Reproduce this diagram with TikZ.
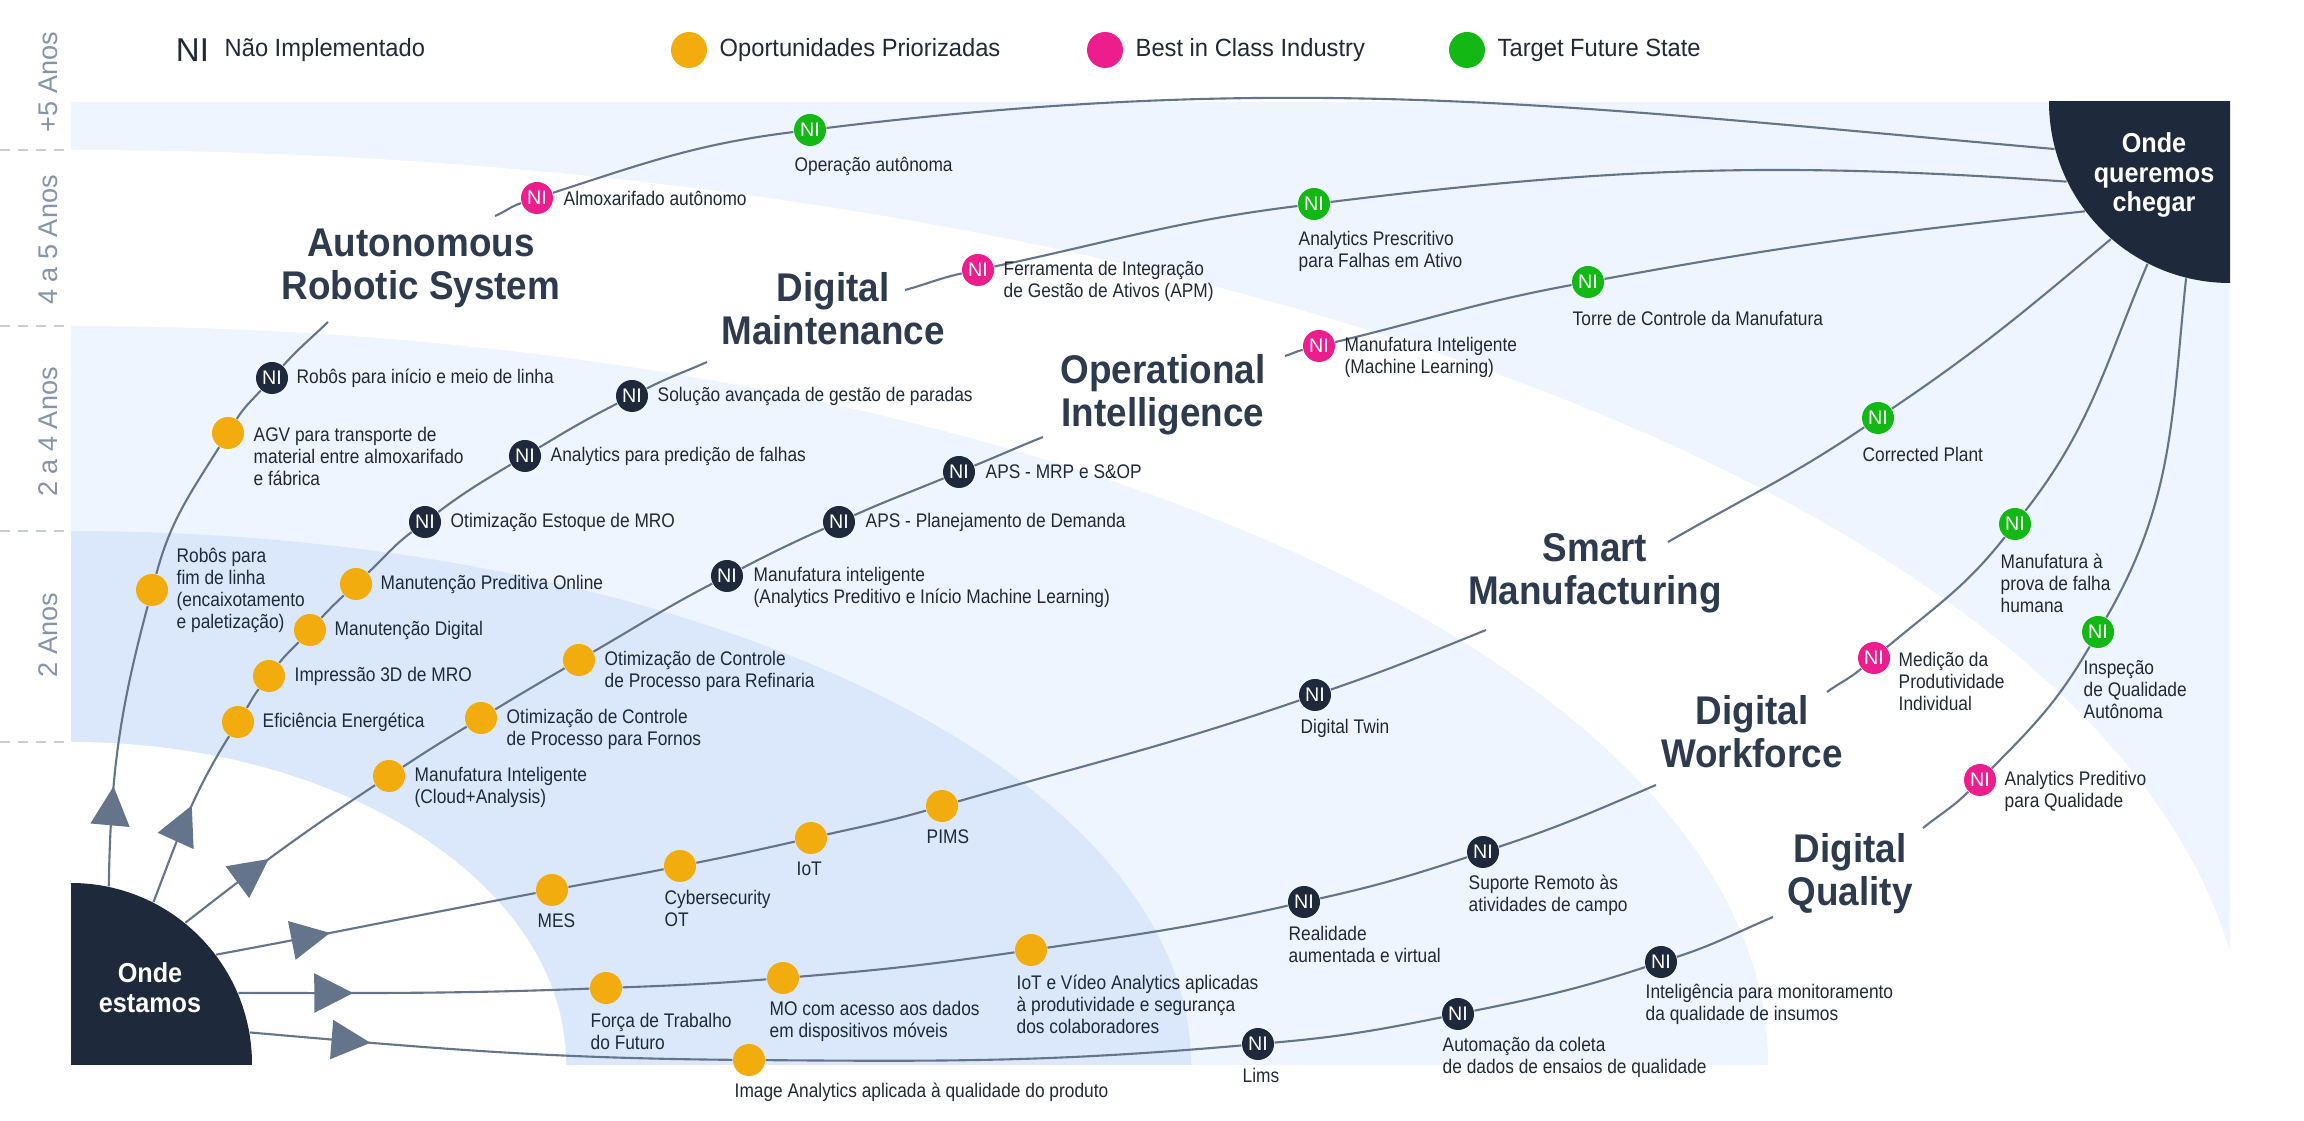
\documentclass[tikz,border=0pt]{standalone}
\usepackage{fontspec}
\setmainfont{Liberation Sans}
\newfontfamily\narrowfont{Liberation Sans}[FakeStretch=0.88]
\newfontfamily\keyfont{Liberation Sans}[FakeStretch=0.95]
\newfontfamily\areafont{Liberation Sans}[FakeStretch=0.92]
\usetikzlibrary{arrows.meta,decorations.markings}
\definecolor{ink}{HTML}{1F2A37}
\definecolor{head}{HTML}{2E3B4E}
\definecolor{line}{HTML}{64748B}
\definecolor{navy}{HTML}{1E293B}
\definecolor{opp}{HTML}{F2AC0E}
\definecolor{best}{HTML}{EC1E8E}
\definecolor{target}{HTML}{14B814}
\definecolor{pale}{HTML}{EEF5FE}
\definecolor{mid}{HTML}{DBE8FC}
\definecolor{yearc}{HTML}{8594AA}
\definecolor{dashc}{HTML}{C5CDD8}
\pgfdeclarelayer{back}
\pgfdeclarelayer{links}
\pgfsetlayers{back,links,main}
\tikzset{
  link/.style={draw=line, line width=0.6pt},
  flow/.style={postaction={decorate}, decoration={markings, mark=at position #1 with {\arrow{Triangle[length=3.9mm,width=3.9mm]}}}},
  spot/.style={circle, fill=#1, minimum size=3.2mm, inner sep=0pt, text=white, font=\fontsize{5.6}{6}\selectfont},
  lab/.style={anchor=west, inner sep=0pt, align=left, text=ink, font=\narrowfont\fontsize{5.6}{6.26}\selectfont},
  area/.style={align=center, inner sep=0pt, text=head, font=\areafont\bfseries\fontsize{11.4}{12.2}\selectfont},
  hub/.style={circle, fill=navy, minimum size=3.62cm, inner sep=0pt},
  hubtext/.style={align=center, text=white, font=\areafont\bfseries\fontsize{7.8}{8.5}\selectfont},
  years/.style={rotate=90, text=yearc, font=\fontsize{7.7}{8}\selectfont},
  key/.style={anchor=west, inner sep=0pt, text=ink, font=\keyfont\fontsize{7.1}{8}\selectfont},
  keydot/.style={circle, fill=#1, minimum size=3.6mm, inner sep=0pt},
}
\begin{document}
\begin{tikzpicture}
  \useasboundingbox (0,0) rectangle (23.04,11.2);
  % bands of the horizon
  \begin{pgfonlayer}{back}
    \begin{scope}
      \clip (0.71,0.56) rectangle (22.3,10.18);
      \fill[pale] (0.71,0.56) rectangle (22.3,10.18);
      \fill[white] (0.71,0.56) ellipse [x radius=21.75, y radius=9.14];
      \fill[pale] (0.71,0.56) ellipse [x radius=16.97, y radius=7.38];
      \fill[mid] (0.71,0.56) ellipse [x radius=11.2, y radius=5.33];
      \fill[white] (0.71,0.56) ellipse [x radius=4.95, y radius=3.22];
    \end{scope}
    \foreach \y in {9.70,7.94,5.89,3.78}
      \draw[dashc, line width=0.7pt, dash pattern=on 0.1cm off 0.08cm] (0,\y) -- (0.71,\y);
  \end{pgfonlayer}
  \foreach \y/\t [count=\i] in {10.38/+5 Anos, 8.80/4 a 5 Anos, 6.88/2 a 4 Anos, 4.85/2 Anos}
    \node[years] (year\i) at (0.48,\y) {\t};

  % legend
  \node[inner sep=0pt, text=ink, font=\fontsize{9.4}{10}\selectfont] (keyni) at (1.925,10.70) {NI};
  \node[key] (keynit) at (2.24,10.70) {Não Implementado};
  \node[keydot=opp] (keyo) at (6.89,10.70) {};
  \node[key] (keyot) at (7.19,10.70) {Oportunidades Priorizadas};
  \node[keydot=best] (keyb) at (11.05,10.70) {};
  \node[key] (keybt) at (11.35,10.70) {Best in Class Industry};
  \node[keydot=target] (keyt) at (14.67,10.70) {};
  \node[key] (keytt) at (14.97,10.70) {Target Future State};

  % start and goal
  \begin{scope}
    \clip (0.71,0.56) rectangle (22.3,10.18);
    \node[hub] (here) at (0.71,0.56) {};
    \node[hub] (there) at (22.3,10.18) {};
  \end{scope}
  \node[hubtext] (heretext) at (1.50,1.32) {Onde\\estamos};
  \node[hubtext] (theretext) at (21.54,9.45) {Onde\\queremos\\chegar};

  % areas
  \node[area] (ars) at (4.21,8.52) {Autonomous\\Robotic System};
  \node[area] (dm) at (8.33,8.11) {Digital\\Maintenance};
  \node[area] (oi) at (11.63,7.25) {Operational\\Intelligence};
  \node[area] (sm) at (15.95,5.47) {Smart\\Manufacturing};
  \node[area] (dw) at (17.52,3.88) {Digital\\Workforce};
  \node[area] (dq) at (18.50,2.46) {Digital\\Quality};
  \coordinate (ars-in) at (3.28,7.98);
  \coordinate (ars-out) at (4.95,9.04);
  \coordinate (dm-in) at (7.07,7.58);
  \coordinate (dm-out) at (9.05,8.30);
  \coordinate (oi-in) at (10.43,6.83);
  \coordinate (oi-out) at (12.85,7.64);
  \coordinate (sm-in) at (14.86,4.90);
  \coordinate (sm-out) at (16.68,5.78);
  \coordinate (dw-in) at (16.56,3.35);
  \coordinate (dw-out) at (18.27,4.28);
  \coordinate (dq-in) at (17.73,2.03);
  \coordinate (dq-out) at (19.23,2.92);

  % Autonomous Robotic System
  \node[spot=opp] (ars1) at (1.52,5.30) {};
  \node[lab] (ars1t) at (1.76,5.30) {Robôs para\\fim de linha\\(encaixotamento\\e paletização)};
  \node[spot=opp] (ars2) at (2.28,6.87) {};
  \node[lab] (ars2t) at (2.53,6.64) {AGV para transporte de\\material entre almoxarifado\\e fábrica};
  \node[spot=navy] (ars3) at (2.72,7.42) {NI};
  \node[lab] (ars3t) at (2.96,7.42) {Robôs para início e meio de linha};
  \node[spot=best] (ars4) at (5.37,9.22) {NI};
  \node[lab] (ars4t) at (5.63,9.22) {Almoxarifado autônomo};
  \node[spot=target] (ars5) at (8.10,9.90) {NI};
  \node[lab] (ars5t) at (7.94,9.54) {Operação autônoma};

  % Digital Maintenance
  \node[spot=opp] (dm1) at (2.38,3.98) {};
  \node[lab] (dm1t) at (2.62,3.98) {Eficiência Energética};
  \node[spot=opp] (dm2) at (2.69,4.44) {};
  \node[lab] (dm2t) at (2.94,4.44) {Impressão 3D de MRO};
  \node[spot=opp] (dm3) at (3.10,4.90) {};
  \node[lab] (dm3t) at (3.34,4.90) {Manutenção Digital};
  \node[spot=opp] (dm4) at (3.56,5.36) {};
  \node[lab] (dm4t) at (3.80,5.36) {Manutenção Preditiva Online};
  \node[spot=navy] (dm5) at (4.25,5.98) {NI};
  \node[lab] (dm5t) at (4.50,5.98) {Otimização Estoque de MRO};
  \node[spot=navy] (dm6) at (5.25,6.64) {NI};
  \node[lab] (dm6t) at (5.50,6.64) {Analytics para predição de falhas};
  \node[spot=navy] (dm7) at (6.32,7.24) {NI};
  \node[lab] (dm7t) at (6.57,7.24) {Solução avançada de gestão de paradas};
  \node[spot=best] (dm8) at (9.78,8.50) {NI};
  \node[lab] (dm8t) at (10.03,8.39) {Ferramenta de Integração\\de Gestão de Ativos (APM)};
  \node[spot=target] (dm9) at (13.14,9.16) {NI};
  \node[lab] (dm9t) at (12.98,8.69) {Analytics Prescritivo\\para Falhas em Ativo};

  % Operational Intelligence
  \node[spot=opp] (oi1) at (3.89,3.44) {};
  \node[lab] (oi1t) at (4.14,3.33) {Manufatura Inteligente\\(Cloud+Analysis)};
  \node[spot=opp] (oi2) at (4.81,4.02) {};
  \node[lab] (oi2t) at (5.06,3.91) {Otimização de Controle\\de Processo para Fornos};
  \node[spot=opp] (oi3) at (5.79,4.60) {};
  \node[lab] (oi3t) at (6.04,4.49) {Otimização de Controle\\de Processo para Refinaria};
  \node[spot=navy] (oi4) at (7.27,5.44) {NI};
  \node[lab] (oi4t) at (7.53,5.33) {Manufatura inteligente\\(Analytics Preditivo e Início Machine Learning)};
  \node[spot=navy] (oi5) at (8.39,5.98) {NI};
  \node[lab] (oi5t) at (8.65,5.98) {APS - Planejamento de Demanda};
  \node[spot=navy] (oi6) at (9.59,6.48) {NI};
  \node[lab] (oi6t) at (9.85,6.48) {APS - MRP e S\&OP};
  \node[spot=best] (oi7) at (13.19,7.74) {NI};
  \node[lab] (oi7t) at (13.44,7.63) {Manufatura Inteligente\\(Machine Learning)};
  \node[spot=target] (oi8) at (15.88,8.38) {NI};
  \node[lab] (oi8t) at (15.72,8.02) {Torre de Controle da Manufatura};

  % Smart Manufacturing
  \node[spot=opp] (sm1) at (5.52,2.30) {};
  \node[lab] (sm1t) at (5.37,1.99) {MES};
  \node[spot=opp] (sm2) at (6.80,2.54) {};
  \node[lab] (sm2t) at (6.64,2.12) {Cybersecurity\\OT};
  \node[spot=opp] (sm3) at (8.11,2.82) {};
  \node[lab] (sm3t) at (7.96,2.51) {IoT};
  \node[spot=opp] (sm4) at (9.42,3.14) {};
  \node[lab] (sm4t) at (9.26,2.83) {PIMS};
  \node[spot=navy] (sm5) at (13.15,4.25) {NI};
  \node[lab] (sm5t) at (13.00,3.92) {Digital Twin};
  \node[spot=target] (sm6) at (18.78,7.02) {NI};
  \node[lab] (sm6t) at (18.62,6.66) {Corrected Plant};

  % Digital Workforce
  \node[spot=opp] (dw1) at (6.06,1.32) {};
  \node[lab] (dw1t) at (5.90,0.89) {Força de Trabalho\\do Futuro};
  \node[spot=opp] (dw2) at (7.83,1.42) {};
  \node[lab] (dw2t) at (7.69,0.99) {MO com acesso aos dados\\em dispositivos móveis};
  \node[spot=opp] (dw3) at (10.31,1.70) {};
  \node[lab] (dw3t) at (10.16,1.16) {IoT e Vídeo Analytics aplicadas\\à produtividade e segurança\\dos colaboradores};
  \node[spot=navy] (dw4) at (13.04,2.18) {NI};
  \node[lab] (dw4t) at (12.88,1.76) {Realidade\\aumentada e virtual};
  \node[spot=navy] (dw5) at (14.83,2.68) {NI};
  \node[lab] (dw5t) at (14.68,2.25) {Suporte Remoto às\\atividades de campo};
  \node[spot=best] (dw6) at (18.74,4.62) {NI};
  \node[lab] (dw6t) at (18.98,4.39) {Medição da\\Produtividade\\Individual};
  \node[spot=target] (dw7) at (20.15,5.96) {NI};
  \node[lab] (dw7t) at (20.00,5.37) {Manufatura à\\prova de falha\\humana};

  % Digital Quality
  \node[spot=opp] (dq1) at (7.49,0.60) {};
  \node[lab] (dq1t) at (7.34,0.28) {Image Analytics aplicada à qualidade do produto};
  \node[spot=navy] (dq2) at (12.58,0.76) {NI};
  \node[lab] (dq2t) at (12.42,0.45) {Lims};
  \node[spot=navy] (dq3) at (14.58,1.06) {NI};
  \node[lab] (dq3t) at (14.42,0.63) {Automação da coleta\\de dados de ensaios de qualidade};
  \node[spot=navy] (dq4) at (16.61,1.58) {NI};
  \node[lab] (dq4t) at (16.45,1.16) {Inteligência para monitoramento\\da qualidade de insumos};
  \node[spot=best] (dq5) at (19.80,3.40) {NI};
  \node[lab] (dq5t) at (20.04,3.29) {Analytics Preditivo\\para Qualidade};
  \node[spot=target] (dq6) at (20.98,4.88) {NI};
  \node[lab] (dq6t) at (20.83,4.30) {Inspeção\\de Qualidade\\Autônoma};

  % paths
  \begin{pgfonlayer}{links}
    \draw[link, flow=1.0cm] (here.78) to[out=89,in=255] (ars1) to[out=75,in=238] (ars2) to[out=58,in=228] (ars3) to[out=48,in=224] (ars-in);
    \draw[link] (ars-out) to[out=23,in=198] (ars4) to[out=18,in=187] (ars5) to[out=7,in=175] (there.195);
    \draw[link, flow=1.04cm] (here.63) to[out=69,in=238] (dm1) to[out=58,in=232] (dm2) to[out=52,in=227] (dm3) to[out=47,in=223] (dm4) to[out=43,in=217] (dm5) to[out=37,in=211] (dm6) to[out=31,in=207] (dm7) to[out=27,in=204] (dm-in);
    \draw[link] (dm-out) to[out=15,in=192] (dm8) to[out=12,in=187] (dm9) to[out=7,in=176] (there.206);
    \draw[link, flow=1.05cm] (here.51) to[out=38,in=213.5] (oi1) to[out=33.5,in=211.3] (oi2) to[out=31.3,in=210] (oi3) to[out=30,in=207.5] (oi4) to[out=27.5,in=204] (oi5) to[out=24,in=202.6] (oi6) to[out=22.6,in=202] (oi-in);
    \draw[link] (oi-out) to[out=16,in=193.7] (oi7) to[out=13.7,in=190.5] (oi8) to[out=10.5,in=186] (there.217);
    \draw[link, flow=1.16cm] (here.37) to[out=10.5,in=190.7] (sm1) to[out=10.7,in=191.3] (sm2) to[out=11.3,in=192.9] (sm3) to[out=12.9,in=196] (sm4) to[out=16,in=199] (sm5) to[out=19,in=202] (sm-in);
    \draw[link] (sm-out) to[out=30,in=214] (sm6) to[out=34,in=220] (there.229);
    \draw[link, flow=1.15cm] (here.23) to[out=0,in=182.2] (dw1) to[out=2.2,in=184.8] (dw2) to[out=4.8,in=188.2] (dw3) to[out=8.2,in=192.8] (dw4) to[out=12.8,in=198.3] (dw5) to[out=18.3,in=203] (dw-in);
    \draw[link] (dw-out) to[out=36,in=220] (dw6) to[out=40,in=232] (dw7) to[out=52,in=247] (there.243);
    \draw[link, flow=1.21cm] (here.10) to[out=-5,in=179.5] (dq1) to[out=-0.5,in=185] (dq2) to[out=5,in=191.5] (dq3) to[out=11.5,in=198] (dq4) to[out=18,in=203] (dq-in);
    \draw[link] (dq-out) to[out=39,in=225] (dq5) to[out=45,in=240] (dq6) to[out=60,in=264] (there.256);
  \end{pgfonlayer}
\end{tikzpicture}
\end{document}
